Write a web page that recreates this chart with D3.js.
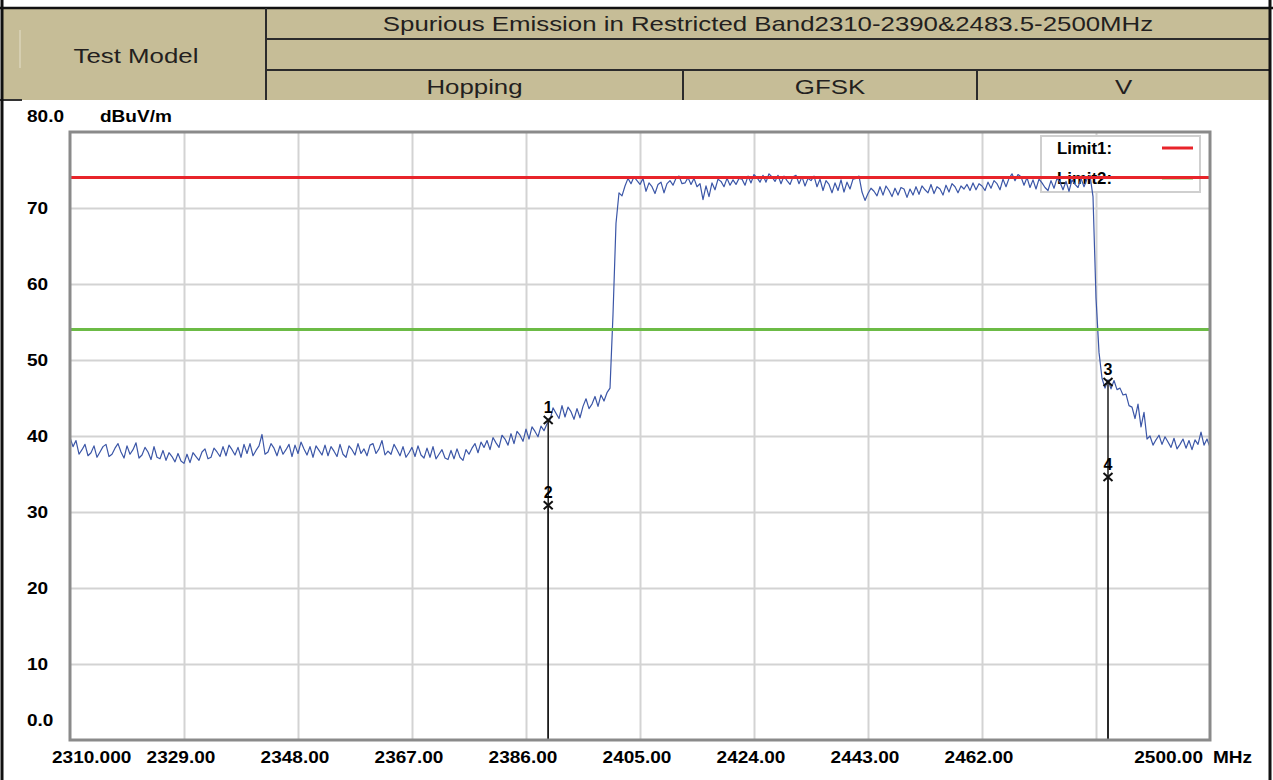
<!DOCTYPE html>
<html>
<head>
<meta charset="utf-8">
<script src="https://cdn.jsdelivr.net/npm/d3@7"></script>
<style>
  html, body { margin: 0; padding: 0; background: #fff; }
  svg { display: block; }
</style>
</head>
<body>
<svg id="chart" width="1273" height="780"></svg>
<script>
// ---- Sweep data: level (dBuV/m) every 0.5 MHz from 2310 MHz to 2500 MHz ----
const startMHz = 2310;
const stepMHz = 0.5;
const levels = [
  // 2310 - 2319.5
  39.8, 38.6, 39.4, 37.6, 38.2, 38.9, 37.4, 37.8, 38.7, 37.2, 37.9, 38.6, 38.9, 37.3, 37.6, 38.4, 39.0, 37.9, 37.1, 38.7,
  // 2320 - 2329.5
  37.6, 38.2, 39.1, 37.1, 37.5, 38.5, 37.9, 36.9, 38.6, 37.2, 37.0, 38.1, 36.8, 37.8, 37.3, 36.6, 37.7, 36.7, 36.4, 37.6,
  // 2330 - 2339.5
  36.5, 37.8, 37.3, 36.8, 37.9, 38.3, 37.0, 37.2, 38.4, 37.9, 37.3, 38.6, 37.4, 38.8, 38.2, 37.5, 38.5, 37.2, 38.9, 37.7,
  // 2340 - 2349.5
  39.0, 37.4, 38.1, 38.7, 40.2, 37.6, 37.9, 39.0, 38.4, 37.4, 38.7, 37.6, 38.2, 38.9, 37.3, 38.8, 37.7, 39.2, 38.3, 37.5,
  // 2350 - 2359.5
  38.6, 37.2, 38.7, 38.1, 37.5, 38.8, 37.4, 38.6, 38.0, 37.3, 38.9, 37.6, 37.2, 38.7, 38.2, 37.5, 39.0, 37.7, 38.3, 37.4,
  // 2360 - 2369.5
  38.8, 39.0, 37.7, 38.3, 39.4, 37.5, 38.0, 37.6, 38.9, 38.2, 37.4, 38.6, 37.2, 37.8, 38.5, 37.3, 38.7, 37.5, 37.1, 38.4,
  // 2370 - 2379.5
  37.2, 38.6, 37.0, 37.6, 38.2, 37.1, 36.9, 38.1, 37.0, 38.3, 37.2, 36.8, 38.2, 37.6, 38.4, 39.0, 37.8, 39.2, 38.5, 39.4,
  // 2380 - 2389.5
  38.2, 39.8, 39.1, 38.5, 40.1, 39.6, 38.8, 40.3, 39.0, 40.6, 40.1, 39.3, 40.9, 39.6, 41.2, 40.6, 39.9, 41.3, 40.7, 41.6,
  // 2390 - 2399.5
  42.1, 43.7, 43.0, 42.3, 44.0, 42.5, 43.8, 43.2, 42.2, 43.6, 42.4, 43.9, 44.9, 43.6, 44.2, 45.2, 43.9, 45.4, 44.6, 45.7,
  // 2400 - 2409.5
  46.3, 56.0, 68.0, 72.0, 71.6, 72.9, 73.9, 73.2, 74.1, 73.6, 73.1, 73.9, 72.2, 73.3, 72.8, 71.9, 73.1, 73.4, 72.0, 73.2,
  // 2410 - 2419.5
  73.6, 73.0, 73.9, 74.2, 73.2, 73.3, 74.0, 73.1, 73.9, 72.8, 73.2, 71.1, 72.9, 71.5, 73.3, 72.4, 73.8, 73.5, 72.8, 73.9,
  // 2420 - 2429.5
  73.0, 73.7, 73.1, 73.9, 73.8, 73.0, 74.2, 73.3, 74.4, 74.0, 73.4, 74.3, 73.4, 74.5, 74.1, 73.5, 74.3, 73.2, 74.2, 73.6,
  // 2430 - 2439.5
  73.1, 74.1, 74.3, 73.2, 74.1, 72.9, 73.9, 73.6, 74.2, 72.8, 73.8, 72.3, 73.6, 73.1, 72.0, 73.3, 72.3, 73.7, 72.1, 73.4,
  // 2440 - 2449.5
  72.5, 73.8, 73.9, 74.2, 72.1, 71.0, 71.9, 72.6, 72.2, 71.6, 72.8, 71.7, 72.9, 72.3, 71.5, 72.6, 71.7, 72.7, 72.5, 71.4,
  // 2450 - 2459.5
  72.5, 71.7, 72.8, 71.8, 72.9, 72.4, 72.0, 73.1, 71.9, 72.8, 72.5, 71.7, 73.0, 72.1, 73.2, 72.8, 72.0, 72.9, 72.5, 73.1,
  // 2460 - 2469.5
  72.3, 73.3, 72.4, 73.2, 72.9, 72.3, 73.4, 72.6, 73.6, 73.2, 72.4, 73.8, 72.8, 73.9, 74.5, 73.6, 74.4, 74.1, 73.0, 74.0,
  // 2470 - 2479.5
  72.7, 73.7, 72.5, 73.8, 73.3, 72.7, 72.3, 73.6, 72.6, 73.9, 73.4, 72.4, 73.5, 72.2, 73.7, 73.1, 72.7, 73.9, 72.8, 73.8,
  // 2480 - 2489.5
  74.3, 71.5, 58.2, 51.0, 47.6, 46.3, 47.4, 46.2, 47.3, 46.1, 46.3, 45.4, 45.5, 44.0, 43.8, 42.3, 44.2, 41.2, 43.1, 39.6,
  // 2490 - 2499.5
  40.0, 38.8, 39.5, 40.1, 38.9, 39.9, 39.2, 38.5, 39.7, 38.3, 38.9, 39.6, 38.4, 39.4, 38.2, 39.5, 38.9, 40.5, 38.8, 39.6,
  // 2500
  38.5
];

// ---- Limits ----
const limit1Level = 74;
const limit2Level = 54;

// ---- Axes ----
const xTicks = [2310, 2329, 2348, 2367, 2386, 2405, 2424, 2443, 2462, 2481, 2500];
const xTickLabels = ["2310.000", "2329.00", "2348.00", "2367.00", "2386.00", "2405.00", "2424.00", "2443.00", "2462.00", "", "2500.00"];
const yTicks = [0, 10, 20, 30, 40, 50, 60, 70, 80];
const yTickLabels = ["0.0", "10", "20", "30", "40", "50", "60", "70", "80.0"];

// ---- Markers ----
const markerIds = [1, 2, 3, 4];
const markerFreqs = [2389.7, 2389.7, 2483.0, 2483.0];
const markerLevels = [42.1, 30.9, 47.1, 34.6];

// ---- Header table ----
const headerLeft = "Test Model";
const headerTitle = "Spurious Emission in Restricted Band2310-2390&2483.5-2500MHz";
const headerRow3 = ["Hopping", "GFSK", "V"];

// ================= drawing =================
const svg = d3.select("#chart");
const ink = "#231f20";
const tan = "#c6bd97";

function label(parent, x, y, str, o = {}) {
  return parent.append("text")
    .attr("transform", `translate(${x},${y}) scale(${o.sx || 1.12},1)`)
    .attr("text-anchor", o.anchor || "start")
    .attr("font-family", o.family || "'Liberation Sans', Arial, sans-serif")
    .attr("font-size", o.size || 17)
    .attr("font-weight", o.weight || "bold")
    .attr("fill", o.fill || "#000")
    .text(str);
}

// --- header table ---
const head = svg.append("g");
head.append("rect").attr("x", 2).attr("y", 8).attr("width", 1267).attr("height", 92).attr("fill", tan);
const hl = (x1, y1, x2, y2, w = 2, c = "#2b2b2b") =>
  head.append("line").attr("x1", x1).attr("y1", y1).attr("x2", x2).attr("y2", y2)
    .attr("stroke", c).attr("stroke-width", w);
hl(0, 8, 1273, 8, 2.5, "#111");
hl(266, 8, 266, 100);
hl(266, 39, 1270, 39);
hl(266, 70, 1270, 70);
hl(683, 70, 683, 100);
hl(977, 70, 977, 100);
hl(0, 100, 22, 100, 2, "#333");
hl(20, 30, 20, 68, 1, "#e4dfca");

const headFont = { family: "'Liberation Sans', Arial, sans-serif", weight: "normal", size: 21, fill: ink, anchor: "middle", sx: 1.23 };
label(head, 136, 63, headerLeft, headFont);
label(head, 768, 31, headerTitle, headFont);
[474.5, 830, 1123.5].forEach((cx, i) => label(head, cx, 94, headerRow3[i], headFont));

// outer black border
hl(2, 0, 2, 780, 3, "#111");
hl(1270, 0, 1270, 780, 3, "#111");

// --- plot ---
const x = d3.scaleLinear().domain([2310, 2500]).range([70, 1210]);
const y = d3.scaleLinear().domain([0, 80]).range([740, 132]);
const plotW = x.range()[1] - x.range()[0];
const plotH = y.range()[0] - y.range()[1];

// grid lines via axis generators
const gridX = svg.append("g").attr("transform", `translate(0,${y(0)})`)
  .call(d3.axisBottom(x).tickValues(xTicks.slice(1, -1)).tickSize(-plotH).tickFormat(""));
const gridY = svg.append("g").attr("transform", `translate(${x(2310)},0)`)
  .call(d3.axisLeft(y).tickValues(yTicks.slice(1, -1)).tickSize(-plotW).tickFormat(""));
[gridX, gridY].forEach(g => {
  g.select(".domain").remove();
  g.selectAll(".tick line").attr("stroke", "#d3d3d3").attr("stroke-width", 2);
});

// legend box (drawn under the trace)
const leg = svg.append("g");
leg.append("rect").attr("x", 1041).attr("y", 136).attr("width", 159).attr("height", 56)
  .attr("fill", "#fff").attr("stroke", "#cfcfcf").attr("stroke-width", 2);
label(leg, 1057, 154, "Limit1:", { size: 16, sx: 1.05 });
label(leg, 1057, 184, "Limit2:", { size: 16, sx: 1.05 });
leg.append("line").attr("x1", 1162).attr("x2", 1193).attr("y1", 148).attr("y2", 148)
  .attr("stroke", "#e8242a").attr("stroke-width", 3);
leg.append("line").attr("x1", 1162).attr("x2", 1193).attr("y1", 178).attr("y2", 178)
  .attr("stroke", "#6cbb46").attr("stroke-width", 3);

// trace
const line = d3.line()
  .x((d, i) => x(startMHz + i * stepMHz))
  .y(d => y(d));
svg.append("path").datum(levels)
  .attr("d", line)
  .attr("fill", "none")
  .attr("stroke", "#3b56a7")
  .attr("stroke-width", 1.2)
  .attr("stroke-linejoin", "round");

// limit lines
svg.append("line").attr("x1", x(2310)).attr("x2", x(2500))
  .attr("y1", y(limit1Level)).attr("y2", y(limit1Level))
  .attr("stroke", "#e8242a").attr("stroke-width", 3);
svg.append("line").attr("x1", x(2310)).attr("x2", x(2500))
  .attr("y1", y(limit2Level)).attr("y2", y(limit2Level))
  .attr("stroke", "#6cbb46").attr("stroke-width", 3);

// markers: drop line, cross at the reading, number above
const mk = svg.append("g");
markerIds.forEach((id, i) => {
  const mx = x(markerFreqs[i]), my = y(markerLevels[i]);
  mk.append("line").attr("x1", mx).attr("x2", mx).attr("y1", my).attr("y2", y(0))
    .attr("stroke", "#1a1a1a").attr("stroke-width", 1.5);
  mk.append("path")
    .attr("d", `M${mx - 4.5},${my - 4}L${mx + 4.5},${my + 4}M${mx + 4.5},${my - 4}L${mx - 4.5},${my + 4}`)
    .attr("stroke", "#111").attr("stroke-width", 2).attr("fill", "none");
  label(mk, mx, my - 7, String(id), { anchor: "middle", size: 16, sx: 1.0 });
});

// frame
svg.append("rect").attr("x", x(2310)).attr("y", y(80)).attr("width", plotW).attr("height", plotH)
  .attr("fill", "none").attr("stroke", "#8a8a8a").attr("stroke-width", 3);

// tick labels
const tl = svg.append("g");
yTicks.forEach((v, i) => {
  let ty = y(v) + 6;
  if (i === 0) ty = y(v) - 14;
  if (i === yTicks.length - 1) ty = y(v) - 10;
  label(tl, 27, ty, yTickLabels[i]);
});
label(tl, 100, y(80) - 10, "dBuV/m");
xTicks.forEach((v, i) => {
  const s = xTickLabels[i];
  if (!s) return;
  if (i === 0) label(tl, x(v) - 18, 763, s);
  else if (i === xTicks.length - 1) label(tl, x(v) - 7, 763, s, { anchor: "end" });
  else label(tl, x(v) - 3, 763, s, { anchor: "middle" });
});
label(tl, 1213, 763, "MHz");
</script>
</body>
</html>
